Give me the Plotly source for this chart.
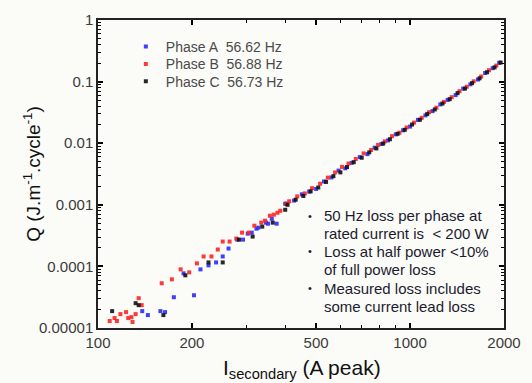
import plotly.graph_objects as go

# ---------------- data ----------------
# Phase A (blue)
phase_a_I = [138.6, 144.5, 158.5, 164, 175, 188, 203, 213, 226, 239, 251, 262, 279.5, 291.6,
             302, 311, 322, 326.5, 345.5, 350.5, 360.5, 373.6, 398,
             400, 425, 450, 475, 500, 530, 560, 590, 620, 650, 690, 730, 770, 810, 850,
             900, 950, 1000, 1060, 1120, 1180, 1250, 1320, 1400, 1480, 1560, 1650, 1740,
             1840, 1930]
phase_a_Q = [1.88e-5, 1.62e-5, 1.88e-5, 1.81e-5, 3.16e-5, 7.71e-5, 3.40e-5, 8.95e-5, 1.04e-4,
             1.16e-4, 1.45e-4, 1.95e-4, 2.72e-4, 2.72e-4,
             3.40e-4, 3.53e-4, 4.10e-4, 4.26e-4, 5.13e-4, 4.94e-4, 5.94e-4, 4.94e-4, 1.04e-3,
             1.04e-3, 1.17e-3, 1.48e-3, 1.64e-3, 1.81e-3, 2.39e-3, 2.78e-3, 3.59e-3, 3.91e-3,
             4.80e-3, 5.95e-3, 6.65e-3, 8.45e-3, 9.71e-3, 1.11e-2,
             1.39e-2, 1.62e-2, 1.86e-2, 2.39e-2, 2.83e-2, 3.32e-2, 4.26e-2, 5.04e-2, 6.04e-2,
             7.69e-2, 9.03e-2, 0.108, 0.138, 0.165, 0.2015]

# Phase B (red)
phase_b_I = [109, 113, 115, 118, 123, 125, 128, 129, 132, 135, 138, 160, 172.5, 184, 196,
             207.5, 218, 231, 242, 251, 264, 277.5, 289.5, 304, 317, 333.5, 343, 355.5,
             366, 376, 384, 401,
             410, 435, 460, 485, 515, 545, 575, 605, 635, 670, 710, 750, 790, 830, 875,
             925, 975, 1030, 1090, 1150, 1215, 1285, 1360, 1440, 1520, 1600, 1690, 1790, 1890]
phase_b_Q = [1.30e-5, 1.45e-5, 1.30e-5, 1.68e-5, 1.81e-5, 1.45e-5, 1.50e-5, 1.25e-5, 1.68e-5,
             3.05e-5, 2.35e-5, 5.32e-5, 6.17e-5, 8.95e-5, 8.0e-5,
             1.12e-4, 1.45e-4, 1.45e-4, 1.88e-4, 2.53e-4, 2.53e-4, 2.83e-4, 3.53e-4, 3.53e-4,
             4.58e-4, 5.13e-4, 5.52e-4, 6.65e-4, 6.90e-4, 7.43e-4, 8.0e-4, 1.04e-3,
             1.14e-3, 1.37e-3, 1.53e-3, 1.86e-3, 2.20e-3, 2.76e-3, 3.35e-3, 4.12e-3, 4.67e-3,
             5.54e-3, 6.83e-3, 7.77e-3, 9.38e-3, 1.07e-2, 1.30e-2,
             1.48e-2, 1.80e-2, 2.16e-2, 2.58e-2, 3.18e-2, 3.77e-2, 4.69e-2, 5.59e-2, 6.99e-2,
             8.25e-2, 0.101, 0.121, 0.153, 0.182]

# Phase C (black)
phase_c_I = [111, 132, 135, 162, 190.5, 226, 251, 283, 313, 336, 363, 398,
             405, 430, 455, 480, 508, 538, 568, 598, 628, 660, 700, 740, 780, 820, 862,
             912, 962, 1015, 1075, 1135, 1200, 1270, 1340, 1420, 1500, 1580, 1670, 1765,
             1865, 1950]
phase_c_Q = [1.88e-5, 2.53e-5, 2.35e-5, 1.62e-5, 7.16e-5, 1.16e-4, 1.16e-4, 2.72e-4, 3.05e-4,
             4.42e-4, 5.13e-4, 8.3e-4,
             1.00e-3, 1.21e-3, 1.39e-3, 1.65e-3, 1.91e-3, 2.35e-3, 2.92e-3, 3.36e-3, 4.10e-3,
             4.92e-3, 5.81e-3, 7.10e-3, 8.22e-3, 9.87e-3, 1.16e-2,
             1.42e-2, 1.65e-2, 2.01e-2, 2.40e-2, 2.97e-2, 3.53e-2, 4.40e-2, 5.19e-2, 6.50e-2,
             7.70e-2, 9.45e-2, 0.113, 0.142, 0.170, 0.204]

series_names = ["Phase A\u00a0 56.62 Hz", "Phase B\u00a0 56.88 Hz", "Phase C\u00a0 56.73 Hz"]
series_colors = ["#2a2aff", "#ff2222", "#111111"]

x_tickvals = [100, 200, 500, 1000, 2000]
x_ticktext = ["100", "200", "500", "1000", "2000"]
x_minor = [300, 400, 600, 700, 800, 900]
y_tickvals = [1e-5, 1e-4, 1e-3, 1e-2, 1e-1, 1]
y_ticktext = ["0.00001", "0.0001", "0.001", "0.01", "0.1", "1"]
y_minor = [m * 10.0 ** e for e in range(-5, 0) for m in range(2, 10)]

x_title = "I<sub>secondary</sub> (A peak)"
y_title = "Q (J.m<sup>-1</sup>.cycle<sup>-1</sup>)"

notes = [
    (True, "50 Hz loss per phase at"),
    (False, "rated current is\u00a0 < 200 W"),
    (True, "Loss at half power <10%"),
    (False, "of full power loss"),
    (True, "Measured loss includes"),
    (False, "some current lead loss"),
]

# ---------------- figure ----------------
FONT = "Liberation Sans, Arial, sans-serif"
BG = "#fbfbf8"

# plot area in pixels: left 98, right 521, top 18, bottom 328
L, R, T, B = 98, 521, 18, 328
W, H = 532, 383


def px(x):
    return (x - L) / (R - L)


def py(y):
    return (B - y) / (B - T)


legend_ids = ["legend", "legend2", "legend3"]
legend_tops = [29, 46.5, 64]

fig = go.Figure()
for xs, ys, name, col, lid in [(phase_a_I, phase_a_Q, series_names[0], series_colors[0], legend_ids[0]),
                               (phase_b_I, phase_b_Q, series_names[1], series_colors[1], legend_ids[1]),
                               (phase_c_I, phase_c_Q, series_names[2], series_colors[2], legend_ids[2])]:
    fig.add_trace(go.Scatter(
        x=xs, y=ys, mode="markers", name=name, legend=lid,
        marker=dict(symbol="square", size=4, color=col, line=dict(width=0), opacity=0.9),
    ))

line_ys = [215, 233, 251, 269, 288, 306]
for (bullet, txt), yy in zip(notes, line_ys):
    fig.add_annotation(x=px(331), y=py(yy), xref="paper", yref="paper", text=txt,
                       showarrow=False, xanchor="left", yanchor="middle",
                       font=dict(family=FONT, size=15, color="#1c1c30"))
    if bullet:
        fig.add_annotation(x=px(319), y=py(yy), xref="paper", yref="paper", text="\u2022",
                           showarrow=False, xanchor="center", yanchor="middle",
                           font=dict(family=FONT, size=11, color="#1c1c30"))

# axis titles placed as annotations
fig.add_annotation(x=px(29), y=py(173), xref="paper", yref="paper", text=y_title,
                   textangle=-90, showarrow=False, xanchor="center", yanchor="middle",
                   font=dict(family=FONT, size=19, color="#111"))
fig.add_annotation(x=px(311), y=py(369), xref="paper", yref="paper", text=x_title,
                   showarrow=False, xanchor="center", yanchor="middle",
                   font=dict(family=FONT, size=21, color="#111"))

legend_common = dict(xanchor="left", yanchor="top", bgcolor="rgba(0,0,0,0)",
                     borderwidth=0, itemwidth=30,
                     font=dict(family=FONT, size=14, color="#4a4a4a"))

fig.update_layout(
    width=W, height=H,
    margin=dict(l=L, r=W - R, t=T, b=H - B),
    paper_bgcolor=BG, plot_bgcolor=BG,
    font=dict(family=FONT, size=15, color="#3a3a3a"),
    showlegend=True,
    legend=dict(x=px(127), y=py(legend_tops[0]), **legend_common),
    legend2=dict(x=px(127), y=py(legend_tops[1]), **legend_common),
    legend3=dict(x=px(127), y=py(legend_tops[2]), **legend_common),
)

fig.update_xaxes(
    type="log", range=[2, 3.30103],
    tickmode="array", tickvals=x_tickvals, ticktext=x_ticktext,
    ticks="inside", ticklen=5, tickwidth=1.5, tickcolor="black",
    ticklabeloverflow="allow",
    minor=dict(tickmode="array", tickvals=x_minor, ticks="inside", ticklen=3,
               tickwidth=1, tickcolor="black", showgrid=False),
    showline=True, linecolor="#222", linewidth=1.5, mirror="ticks",
    showgrid=False, zeroline=False,
    tickfont=dict(family=FONT, size=15, color="#3a3a3a"),
)
fig.update_yaxes(
    type="log", range=[-5, 0],
    tickmode="array", tickvals=y_tickvals, ticktext=y_ticktext,
    ticks="inside", ticklen=5, tickwidth=1.5, tickcolor="black",
    ticklabeloverflow="allow",
    minor=dict(tickmode="array", tickvals=y_minor, ticks="inside", ticklen=3,
               tickwidth=1, tickcolor="black", showgrid=False),
    showline=True, linecolor="#222", linewidth=1.5, mirror="ticks",
    showgrid=False, zeroline=False,
    tickfont=dict(family=FONT, size=15, color="#3a3a3a"),
)

fig.write_html("out.html")
